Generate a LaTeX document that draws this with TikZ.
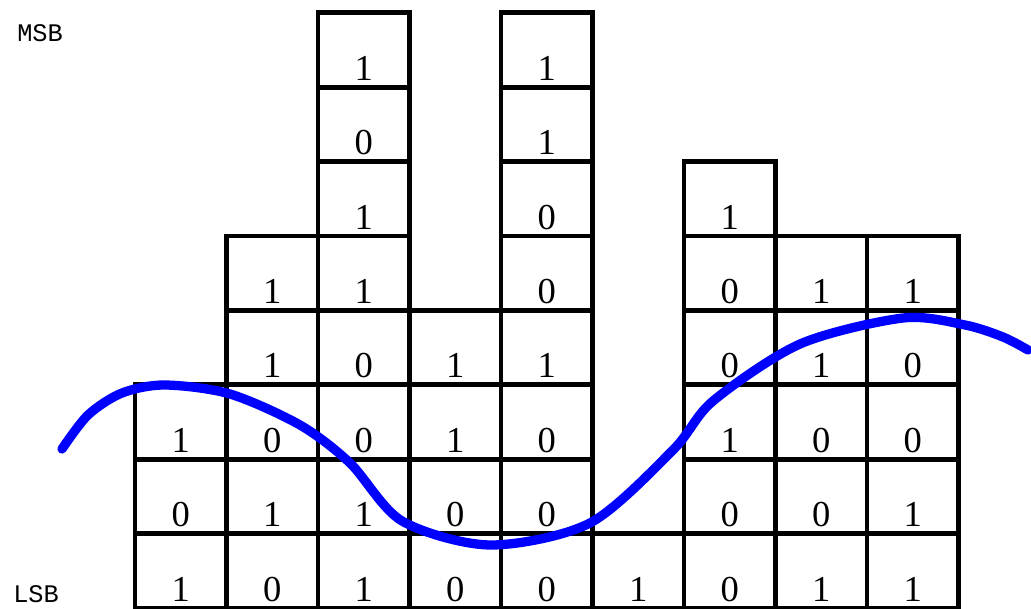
\documentclass[tikz,border=0pt]{standalone}
\usepackage{fontspec}
\setmainfont{Liberation Serif}
\newfontfamily\bitlabel{Liberation Mono}
\usepackage{tikz}

\begin{document}
\begin{tikzpicture}[
    x=0.025cm, y=-0.025cm,
    cell/.style={draw, rectangle, line width=3.5pt, outer sep=0pt, inner sep=0pt,
      minimum width=2.2875cm, minimum height=1.86cm},
    digit/.style={anchor=base, inner sep=0pt, font=\fontsize{26}{30}\selectfont},
    side/.style={anchor=base west, inner sep=0pt, font=\bitlabel\fontsize{18}{20}\selectfont},
    wave/.style={blue, line width=6.6pt, line cap=round, line join=round}
  ]
  \useasboundingbox (0,0) rectangle (1031,609);
  % Bit columns, LSB first
  \foreach \c/\bits in {1/{1,0,1}, 2/{0,1,0,1,1}, 3/{1,1,0,0,1,1,0,1},
      4/{0,0,1,1}, 5/{0,0,0,1,0,0,1,1}, 6/{1}, 7/{0,0,1,0,0,1},
      8/{1,0,0,1,1}, 9/{1,1,0,0,1}} {
    \foreach \b [count=\r] in \bits {
      \node[cell] (c\c-\r) at ({135+91.5*(\c-1)+45.75}, {608-74.4*(\r-0.5)}) {};
      \node[digit] (d\c-\r) at ([yshift=0.175cm]c\c-\r.south) {\b};
    }
  }
  % Labels
  \node[side] (msb) at (17,42) {MSB};
  \node[side] (lsb) at (13,602) {LSB};
  % Curve
  \draw[wave] plot[smooth, tension=0.5] coordinates {
    (62,449) (88,415) (122,393) (165,385) (230,394) (300,425) (350,463)
    (402,521) (490,545) (590,523) (673,450) (713,401) (800,344)
    (903,318) (965,325) (1003,337) (1028,350)};
\end{tikzpicture}
\end{document}
